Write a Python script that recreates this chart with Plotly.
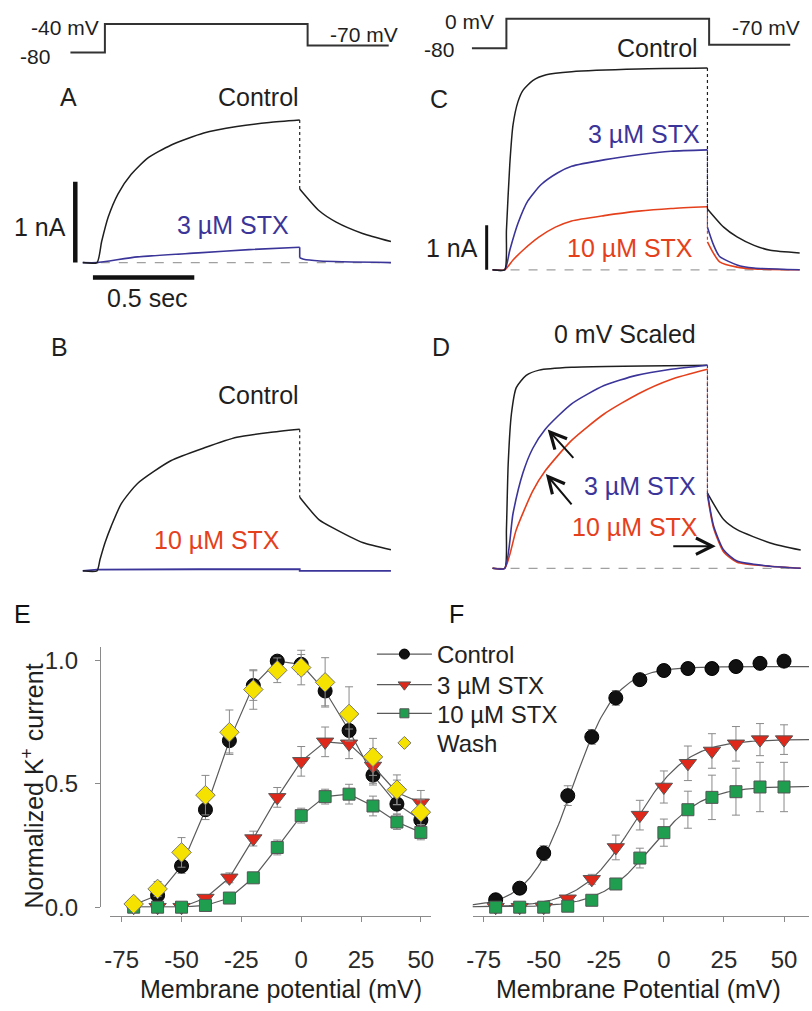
import numpy as np
import plotly.graph_objects as go

W, H = 812, 1011
FONT = "Liberation Sans, Arial, Helvetica, sans-serif"
INK = "#1f1f1f"
BLUE = "#3b3599"
RED = "#e5401c"
GREEN = "#1f9e4f"
YELLOW = "#f6e200"
GREY = "#5a5a5a"
AXC = "#8a8a8a"

# ---------------- voltage protocols ----------------
proto_t = [-0.17, 0, 0, 1.0, 1.0, 1.4]
protoL_mV = [-80, -80, -40, -40, -70, -70]
protoR_mV = [-80, -80, 0, 0, -70, -70]

# ---------------- panel A (nA vs s) ----------------
A_t_on = [-0.07, 0, 0.023, 0.055, 0.104, 0.169, 0.25, 0.364, 0.527, 0.69, 0.85, 1.0]
A_ctrl_on = [0, 0, 0.26, 0.56, 0.85, 1.09, 1.29, 1.45, 1.60, 1.68, 1.73, 1.76]
A_t_off = [1.0, 1.096, 1.18, 1.31, 1.45]
A_ctrl_off = [0.91, 0.64, 0.50, 0.36, 0.26]
A_stx_t_on = [-0.07, 0, 0.2, 0.5, 0.75, 1.0]
A_stx_on = [0, 0, 0.07, 0.12, 0.16, 0.19]
A_stx_t_off = [1.0, 1.02, 1.1, 1.45]
A_stx_off = [0.06, 0.04, 0.02, 0.0]

# ---------------- panel B ----------------
B_t_on = [-0.07, 0, 0.015, 0.04, 0.07, 0.12, 0.2, 0.364, 0.53, 0.69, 0.85, 1.0]
B_ctrl_on = [0, 0, 0.14, 0.35, 0.55, 0.83, 1.08, 1.36, 1.52, 1.65, 1.71, 1.75]
B_t_off = [1.0, 1.096, 1.18, 1.31, 1.45]
B_ctrl_off = [0.91, 0.63, 0.51, 0.35, 0.26]
B_stx_t = [-0.07, 0, 0.5, 1.0, 1.0, 1.45]
B_stx = [0, 0.015, 0.02, 0.02, 0.0, 0.0]

# ---------------- panel C ----------------
C_ctrl_t_on = [-0.06, 0, 0.0085, 0.025, 0.041, 0.065, 0.09, 0.138, 0.205, 0.33, 0.66, 1.0]
C_ctrl_on = [0, 0, 0.89, 2.37, 3.26, 3.78, 4.04, 4.26, 4.39, 4.46, 4.52, 4.54]
C_ctrl_t_off = [1.0, 1.08, 1.146, 1.23, 1.31, 1.455]
C_ctrl_off = [1.37, 0.96, 0.74, 0.55, 0.44, 0.38]
C_s3_t_on = [-0.06, 0, 0.025, 0.065, 0.114, 0.18, 0.26, 0.33, 0.496, 0.66, 0.82, 1.0]
C_s3_on = [0, 0, 0.44, 1.04, 1.55, 1.92, 2.18, 2.33, 2.48, 2.59, 2.67, 2.70]
C_s10_t_on = [-0.06, 0, 0.041, 0.09, 0.17, 0.25, 0.33, 0.49, 0.66, 0.82, 1.0]
C_s10_on = [0, 0, 0.22, 0.44, 0.74, 0.96, 1.10, 1.22, 1.32, 1.38, 1.42]
C_stx_t_off = [1.0, 1.03, 1.06, 1.146, 1.23, 1.455]
C_s3_off = [0.96, 0.56, 0.30, 0.11, 0.04, 0.0]
C_s10_off = [0.63, 0.37, 0.18, 0.06, 0.02, 0.0]

# ---------------- panel D (scaled) ----------------
D_ctrl_t_on = [-0.06, 0, 0.0085, 0.017, 0.033, 0.057, 0.106, 0.17, 0.33, 1.0]
D_ctrl_on = [0, 0, 0.19, 0.51, 0.76, 0.89, 0.95, 0.976, 0.99, 1.0]
D_s3_t_on = [-0.06, 0, 0.041, 0.09, 0.138, 0.2, 0.33, 0.49, 0.65, 0.82, 1.0]
D_s3_on = [0, 0, 0.27, 0.47, 0.59, 0.685, 0.81, 0.90, 0.95, 0.98, 1.0]
D_s10_t_on = [-0.06, 0, 0.057, 0.138, 0.2, 0.33, 0.49, 0.66, 0.82, 1.0]
D_s10_on = [0, 0, 0.19, 0.38, 0.48, 0.63, 0.76, 0.86, 0.93, 0.98]
D_ctrl_t_off = [1.0, 1.08, 1.146, 1.31, 1.46]
D_ctrl_off = [0.37, 0.24, 0.19, 0.125, 0.09]
D_stx_t_off = [1.0, 1.03, 1.08, 1.146, 1.31, 1.46]
D_s3_off = [0.37, 0.21, 0.09, 0.036, 0.01, 0.0]
D_s10_off = [0.36, 0.20, 0.08, 0.03, 0.01, 0.0]

# scale bars
SCALE_T = 0.5   # s
SCALE_I = 1.0   # nA

# ---------------- panel E (I-V) ----------------
V = [-70, -60, -50, -40, -30, -20, -10, 0, 10, 20, 30, 40, 50]
E_ctrl = [0.01, 0.048, 0.167, 0.395, 0.675, 0.898, 0.997, 0.984, 0.876, 0.716, 0.535, 0.418, 0.353]
E_ctrl_err = [0.01, 0.02, 0.03, 0.04, 0.05, 0.06, 0.02, 0.04, 0.06, 0.05, 0.04, 0.04, 0.03]
E_s3 = [0.0, 0.0, 0.0, 0.037, 0.119, 0.278, 0.445, 0.591, 0.670, 0.662, 0.572, 0.465, 0.423]
E_s3_err = [0.0, 0.0, 0.0, 0.01, 0.02, 0.03, 0.04, 0.06, 0.06, 0.06, 0.07, 0.05, 0.05]
E_s10 = [0.0, 0.0, 0.0, 0.007, 0.037, 0.119, 0.242, 0.371, 0.448, 0.458, 0.410, 0.345, 0.303]
E_s10_err = [0.0, 0.0, 0.0, 0.005, 0.01, 0.02, 0.03, 0.03, 0.03, 0.04, 0.04, 0.03, 0.03]
E_wash = [0.013, 0.074, 0.222, 0.454, 0.709, 0.882, 0.960, 0.971, 0.911, 0.783, 0.609, 0.476, 0.385]
E_wash_err = [0.01, 0.03, 0.06, 0.08, 0.09, 0.08, 0.05, 0.07, 0.10, 0.11, 0.075, 0.06, 0.05]

# ---------------- panel F (G-V) ----------------
F_ctrl = [0.030, 0.077, 0.219, 0.452, 0.690, 0.848, 0.922, 0.959, 0.967, 0.967, 0.975, 0.988, 0.997]
F_ctrl_err = [0.005, 0.01, 0.03, 0.04, 0.03, 0.03, 0.02, 0.01, 0.01, 0.01, 0.01, 0.01, 0.01]
F_s3 = [0.0, 0.0, 0.0, 0.034, 0.113, 0.242, 0.373, 0.487, 0.583, 0.633, 0.662, 0.679, 0.679]
F_s3_err = [0.0, 0.0, 0.0, 0.01, 0.02, 0.05, 0.06, 0.065, 0.07, 0.07, 0.07, 0.065, 0.06]
F_s10 = [0.0, 0.0, 0.0, 0.004, 0.028, 0.094, 0.199, 0.302, 0.395, 0.445, 0.468, 0.487, 0.487]
F_s10_err = [0.0, 0.0, 0.0, 0.005, 0.01, 0.02, 0.04, 0.055, 0.075, 0.09, 0.095, 0.10, 0.10]
# Boltzmann fit parameters (Gmax, V1/2, slope k)
FIT_ctrl = (0.975, -38.0, 9.0)
FIT_s3 = (0.68, -12.5, 11.0)
FIT_s10 = (0.49, -5.0, 10.5)

XTICKS = [-75, -50, -25, 0, 25, 50]
XTICK_TEXT = ["-75", "-50", "-25", "0", "25", "50"]
YTICKS = [0, 0.5, 1.0]
YTICK_TEXT = ["0.0", "0.5", "1.0"]

fig = go.Figure()
layout = {}


def add_axes(idx, xpx, xorig, xscale, ypx, yorig, yscale):
    x0, x1 = xpx
    y0, y1 = ypx
    layout[f"xaxis{idx}"] = dict(domain=[x0 / W, x1 / W],
                                 range=[(x0 - xorig) / xscale, (x1 - xorig) / xscale],
                                 visible=False, anchor=f"y{idx}", fixedrange=True)
    layout[f"yaxis{idx}"] = dict(domain=[1 - y1 / H, 1 - y0 / H],
                                 range=[(yorig - y1) / yscale, (yorig - y0) / yscale],
                                 visible=False, anchor=f"x{idx}", fixedrange=True)


add_axes(1, (50, 405), 100, 205, (5, 70), -4.7, 0.725)     # protocol left
add_axes(2, (460, 812), 506, 205, (5, 70), 19, 0.375)      # protocol right
add_axes(3, (55, 405), 92, 205, (80, 310), 266, 82)        # A
add_axes(4, (55, 405), 92, 205, (330, 600), 578.3, 82)     # B
add_axes(5, (470, 812), 504.3, 205, (40, 300), 273.3, 45)  # C
add_axes(6, (470, 812), 504.3, 205, (330, 600), 575.7, 205.7)  # D


def line(idx, x, y, color, width=1.5, dash=None, shape="spline"):
    fig.add_trace(go.Scatter(x=x, y=y, mode="lines", xaxis=f"x{idx}", yaxis=f"y{idx}",
                             line=dict(color=color, width=width, dash=dash, shape=shape,
                                       smoothing=0.6 if shape == "spline" else None),
                             showlegend=False, hoverinfo="skip"))


# protocols
line(1, proto_t, protoL_mV, "#333333", 2, shape="linear")
line(2, proto_t, protoR_mV, "#333333", 2, shape="linear")

BASE = "#a0a0a0"
# ---- A ----
line(3, [A_t_on[0], A_t_off[-1]], [0, 0], BASE, 1.3, "dash", "linear")
line(3, A_stx_t_on, A_stx_on, BLUE, 1.6)
line(3, [1.0, 1.0], [A_stx_on[-1], A_stx_off[0]], BLUE, 1.6, None, "linear")
line(3, A_stx_t_off, A_stx_off, BLUE, 1.6)
line(3, A_t_on, A_ctrl_on, INK, 1.5)
line(3, [1.0, 1.0], [A_ctrl_on[-1], A_ctrl_off[0]], INK, 1.2, "dot", "linear")
line(3, A_t_off, A_ctrl_off, INK, 1.5)
line(3, [-0.107, -0.107], [0, SCALE_I], "#111111", 4.5, None, "linear")
line(3, [-0.02, -0.02 + SCALE_T], [-0.183, -0.183], "#111111", 4.5, None, "linear")

# ---- B ----
line(4, B_stx_t, B_stx, BLUE, 1.8, None, "linear")
line(4, B_t_on, B_ctrl_on, INK, 1.5)
line(4, [1.0, 1.0], [B_ctrl_on[-1], B_ctrl_off[0]], INK, 1.2, "dot", "linear")
line(4, B_t_off, B_ctrl_off, INK, 1.5)

# ---- C ----
line(5, [C_ctrl_t_on[0], C_ctrl_t_off[-1]], [0, 0], BASE, 1.3, "dash", "linear")
line(5, C_s10_t_on, C_s10_on, RED, 1.6)
line(5, [1.0, 1.0], [C_s10_on[-1], C_s10_off[0]], RED, 1.2, "dot", "linear")
line(5, C_stx_t_off, C_s10_off, RED, 1.6)
line(5, C_s3_t_on, C_s3_on, BLUE, 1.6)
line(5, [1.0, 1.0], [C_s3_on[-1], C_s3_off[0]], BLUE, 1.2, "dot", "linear")
line(5, C_stx_t_off, C_s3_off, BLUE, 1.6)
line(5, C_ctrl_t_on, C_ctrl_on, INK, 1.5)
line(5, [1.0, 1.0], [C_ctrl_on[-1], C_ctrl_off[0]], INK, 1.2, "dot", "linear")
line(5, C_ctrl_t_off, C_ctrl_off, INK, 1.5)
line(5, [-0.089, -0.089], [0, SCALE_I], "#111111", 3, None, "linear")

# ---- D ----
line(6, [D_ctrl_t_on[0], D_ctrl_t_off[-1]], [0, 0], BASE, 1.3, "dash", "linear")
line(6, D_ctrl_t_on, D_ctrl_on, INK, 1.5)
line(6, D_ctrl_t_off, D_ctrl_off, INK, 1.5)
line(6, D_s10_t_on, D_s10_on, RED, 1.6)
line(6, [1.0, 1.0], [D_s10_on[-1], D_s10_off[0]], RED, 1.2, "dot", "linear")
line(6, D_stx_t_off, D_s10_off, RED, 1.6)
line(6, D_s3_t_on, D_s3_on, BLUE, 1.6)
line(6, [1.0, 1.0], [D_s3_on[-1], D_s3_off[0]], BLUE, 1.2, "dot", "linear")
line(6, D_stx_t_off, D_s3_off, BLUE, 1.6)

# ---------------- E ----------------
def err(vals, color=AXC):
    return dict(type="data", array=vals, visible=True, color=color, thickness=1, width=4)


MK = [
    dict(symbol="circle", size=14, color="#111111", line=dict(color="#000", width=1)),
    dict(symbol="triangle-down", size=15, color="#e0281a", line=dict(color="#555", width=1)),
    dict(symbol="square", size=12, color=GREEN, line=dict(color="#555", width=1)),
    dict(symbol="diamond", size=15, color=YELLOW, line=dict(color="#777", width=1)),
]
series_E = [
    ("Control", E_ctrl, E_ctrl_err, MK[0], "lines+markers"),
    ("3 µM STX", E_s3, E_s3_err, MK[1], "lines+markers"),
    ("10 µM STX", E_s10, E_s10_err, MK[2], "lines+markers"),
    ("Wash", E_wash, E_wash_err, MK[3], "markers"),
]
for name, y, e, mk, mode in series_E:
    fig.add_trace(go.Scatter(x=V, y=y, error_y=err(e), mode=mode, name=name,
                             xaxis="x7", yaxis="y7", marker=mk, cliponaxis=False,
                             line=dict(color=GREY, width=1.2), showlegend=False))

# legend entries (one small legend per row, smaller symbols like the original key)
LEG_SIZES = [10, 11, 9, 10]
LEG_ROWS = [663, 694, 723, 753]
for i, (name, _, _, mk, mode) in enumerate(series_E):
    lm = dict(mk)
    lm["size"] = LEG_SIZES[i]
    lg = "legend" if i == 0 else f"legend{i + 1}"
    fig.add_trace(go.Scatter(x=[None], y=[None], mode=mode, name=name, xaxis="x7", yaxis="y7",
                             marker=lm, line=dict(color=GREY, width=1.2), showlegend=True,
                             legend=lg))

# ---------------- F ----------------
vfit = np.linspace(-80, 61, 200)
for (gmax, vh, k) in (FIT_ctrl, FIT_s3, FIT_s10):
    fig.add_trace(go.Scatter(x=vfit, y=gmax / (1 + np.exp((vh - vfit) / k)), mode="lines",
                             xaxis="x8", yaxis="y8", line=dict(color=GREY, width=1.2),
                             showlegend=False, hoverinfo="skip"))
for y, e, mk in ((F_ctrl, F_ctrl_err, MK[0]), (F_s3, F_s3_err, MK[1]), (F_s10, F_s10_err, MK[2])):
    fig.add_trace(go.Scatter(x=V, y=y, error_y=err(e), mode="markers", xaxis="x8", yaxis="y8",
                             marker=mk, cliponaxis=False, showlegend=False))

tickfont = dict(family=FONT, size=24, color="#2a2a2a")
xcommon = dict(showline=True, linecolor=AXC, linewidth=1, ticks="outside", ticklen=5,
               tickcolor=AXC, tickvals=XTICKS, ticktext=XTICK_TEXT, tickfont=tickfont,
               showgrid=False, zeroline=False, anchor="free", position=1 - 928 / H,
               fixedrange=True, ticklabelstandoff=17)
layout["xaxis7"] = dict(domain=[105 / W, 430 / W],
                        range=[-75 + (105 - 117) / 2.42, -75 + (430 - 117) / 2.42], **xcommon)
layout["yaxis7"] = dict(domain=[1 - 919 / H, 1 - 655 / H], range=[0, (919 - 655) / 250],
                        showline=True, linecolor=AXC, linewidth=1, ticks="outside", ticklen=5,
                        tickcolor=AXC, tickvals=YTICKS, ticktext=YTICK_TEXT,
                        tickfont=tickfont, showgrid=False, zeroline=False, anchor="free",
                        position=95 / W, fixedrange=True, ticklabelstandoff=12)
layout["xaxis8"] = dict(domain=[472 / W, 1.0],
                        range=[-75 + (472 - 483) / 2.43, -75 + (812 - 483) / 2.43], **xcommon)
layout["yaxis8"] = dict(domain=[1 - 919 / H, 1 - 655 / H], range=[0, (919 - 655) / 250],
                        visible=False, anchor="x8", fixedrange=True)

# ---------------- text labels ----------------
ann = []


def lab(text, xpx, ypx, size=25, color=INK, xanchor="right", angle=0):
    ann.append(dict(text=text, x=xpx / W, y=1 - ypx / H, xref="paper", yref="paper",
                    xanchor=xanchor, yanchor="middle", showarrow=False, textangle=angle,
                    font=dict(family=FONT, size=size, color=color)))


# protocols
lab("-40 mV", 96, 28, 21)
lab("-80", 47, 57, 21)
lab("-70 mV", 398, 35, 21)
lab("0 mV", 495, 22, 21)
lab("-80", 455, 50, 21)
lab("-70 mV", 805, 28, 21)
# panel letters
lab("A", 63, 98, 25, xanchor="center")
lab("B", 54, 352, 25, xanchor="center")
lab("C", 438, 100, 25, xanchor="center")
lab("D", 440, 352, 25, xanchor="center")
lab("E", 17, 622, 25, "#111", xanchor="center")
lab("F", 456, 622, 25, "#111", xanchor="center")
# A
lab("Control", 298, 98)
lab("3 µM STX", 288, 228, color=BLUE)
lab("1 nA", 63, 230)
lab("0.5 sec", 143, 302, xanchor="center")
# B
lab("Control", 298, 400)
lab("10 µM STX", 279, 547, color=RED)
# C
lab("Control", 702, 49)
lab("3 µM STX", 704, 136, color=BLUE)
lab("10 µM STX", 697, 251, color=RED)
lab("1 nA", 479, 251)
# D
lab("0 mV Scaled", 626, 338, xanchor="center")
lab("3 µM STX", 700, 492, color=BLUE)
lab("10 µM STX", 702, 534, color=RED)
# E / F axis titles
lab("Membrane potential (mV)", 278, 1002, xanchor="center")
lab("Membrane Potential (mV)", 640, 1002, xanchor="center")
lab("Normalized K<sup>+</sup> current", 27, 796, xanchor="center", angle=-90)

# arrows in D (data coordinates of D)
for hx, hy, axp, ayp in ((0.212, 0.684, 27, 30), (0.203, 0.465, 27, 32), (1.041, 0.109, -44, 0)):
    ann.append(dict(x=hx, y=hy, xref="x6", yref="y6", ax=axp, ay=ayp, showarrow=True,
                    arrowhead=5, arrowsize=1.6, arrowwidth=2, arrowcolor="#111", text=""))

legs = {}
for i, ypx in enumerate(LEG_ROWS):
    key = "legend" if i == 0 else f"legend{i + 1}"
    legs[key] = dict(x=370 / W, y=1 - ypx / H, xanchor="left", yanchor="middle",
                     font=dict(family=FONT, size=24, color="#222"),
                     bgcolor="rgba(0,0,0,0)", itemwidth=55, borderwidth=0)

fig.update_layout(
    width=W, height=H, margin=dict(l=0, r=0, t=0, b=0),
    paper_bgcolor="white", plot_bgcolor="rgba(0,0,0,0)",
    font=dict(family=FONT, color=INK),
    annotations=ann,
    **legs,
    **layout,
)

fig.write_html("out.html")
